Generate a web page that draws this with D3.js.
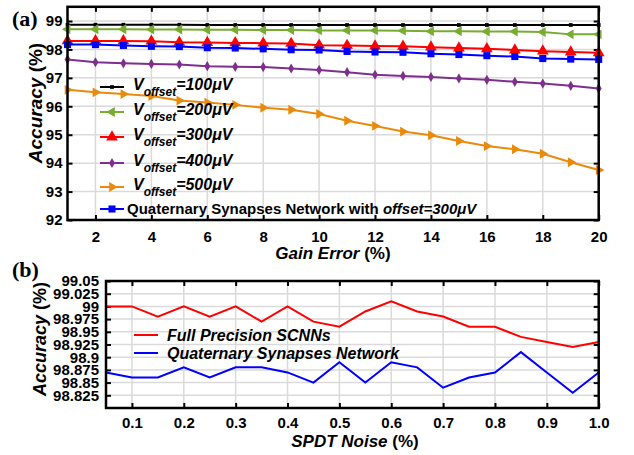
<!DOCTYPE html>
<html>
<head>
<meta charset="utf-8">
<script src="https://cdn.jsdelivr.net/npm/d3@7"></script>
<style>
    body { margin: 0; background: #fff; }
    svg { display: block; font-family: 'Liberation Sans', Arial, sans-serif; font-weight: bold; }
    .grid line { stroke: #dadada; stroke-width: 1.5; }
    .axis text { font-weight: bold; fill: #000; }
    .axis line { stroke: #000; stroke-width: 2; }
</style>
</head>
<body>
<svg id="chart" width="634" height="455"></svg>
<script>
// panel (a): accuracy vs gain error
const gainError = [1, 2, 3, 4, 5, 6, 7, 8, 9, 10, 11, 12, 13, 14, 15, 16, 17, 18, 19, 20];
const acc100 = [98.87, 98.87, 98.87, 98.87, 98.87, 98.86, 98.86, 98.86, 98.86, 98.86, 98.86, 98.86, 98.86, 98.86, 98.86, 98.86, 98.86, 98.86, 98.86, 98.86];
const acc200 = [98.71, 98.71, 98.71, 98.70, 98.70, 98.69, 98.69, 98.68, 98.68, 98.67, 98.67, 98.67, 98.66, 98.64, 98.64, 98.63, 98.63, 98.61, 98.53, 98.53];
const acc300 = [98.30, 98.30, 98.30, 98.29, 98.25, 98.24, 98.23, 98.22, 98.21, 98.15, 98.14, 98.12, 98.11, 98.08, 98.05, 98.02, 97.98, 97.94, 97.91, 97.88];
const acc400 = [97.65, 97.55, 97.51, 97.49, 97.47, 97.41, 97.39, 97.38, 97.33, 97.28, 97.20, 97.11, 97.07, 97.03, 96.98, 96.93, 96.86, 96.80, 96.72, 96.63];
const acc500 = [96.58, 96.49, 96.43, 96.36, 96.20, 96.13, 96.05, 95.95, 95.88, 95.73, 95.49, 95.31, 95.11, 94.98, 94.78, 94.60, 94.49, 94.33, 94.03, 93.76];
const accQuat = [98.17, 98.17, 98.14, 98.11, 98.10, 98.06, 98.05, 98.02, 97.99, 97.98, 97.93, 97.91, 97.90, 97.85, 97.82, 97.78, 97.75, 97.68, 97.66, 97.65];
const offsetLabels = ['100', '200', '300', '400', '500'];
const gainTicks = [2, 4, 6, 8, 10, 12, 14, 16, 18, 20];
const accTicksA = [92, 93, 94, 95, 96, 97, 98, 99];

// panel (b): accuracy vs SPDT noise
const spdtNoise = [0.05, 0.1, 0.15, 0.2, 0.25, 0.3, 0.35, 0.4, 0.45, 0.5, 0.55, 0.6, 0.65, 0.7, 0.75, 0.8, 0.85, 0.9, 0.95, 1.0];
const accFull = [99.0, 99.0, 98.98, 99.0, 98.98, 99.0, 98.97, 99.0, 98.97, 98.96, 98.99, 99.01, 98.99, 98.98, 98.96, 98.96, 98.94, 98.93, 98.92, 98.93];
const accQuatNoise = [98.87, 98.86, 98.86, 98.88, 98.86, 98.88, 98.88, 98.87, 98.85, 98.89, 98.85, 98.89, 98.88, 98.84, 98.86, 98.87, 98.91, 98.87, 98.83, 98.87];
const noiseTicks = [0.1, 0.2, 0.3, 0.4, 0.5, 0.6, 0.7, 0.8, 0.9, 1.0];
const accTicksB = [98.825, 98.85, 98.875, 98.9, 98.925, 98.95, 98.975, 99, 99.025, 99.05];

document.addEventListener('DOMContentLoaded', () => {
    'use strict';

    let svg = d3.select('#chart');

    // shared drawing of grid, inward ticks on all four sides and the frame
    let drawFrame = (g, x, y, xTicks, yTicks, opts) => {
        let [x0, x1] = x.range(), [y0, y1] = y.range();
        let grid = g.append('g').attr('class', 'grid');
        grid.selectAll('.gx').data(xTicks).enter().append('line')
            .attr('x1', d => x(d)).attr('x2', d => x(d))
            .attr('y1', y0).attr('y2', y1);
        grid.selectAll('.gy').data(yTicks).enter().append('line')
            .attr('x1', x0).attr('x2', x1)
            .attr('y1', d => y(d)).attr('y2', d => y(d));

        g.append('g').attr('class', 'axis')
            .attr('transform', 'translate(0,' + y0 + ')')
            .call(d3.axisBottom(x).tickValues(xTicks).tickSize(-5).tickPadding(opts.xPad).tickFormat(opts.xFormat))
            .style('font-size', opts.xFont + 'px')
            .call(a => a.select('.domain').remove());
        g.append('g').attr('class', 'axis')
            .attr('transform', 'translate(0,' + y1 + ')')
            .call(d3.axisTop(x).tickValues(xTicks).tickSize(-5).tickFormat(''))
            .call(a => a.select('.domain').remove());
        g.append('g').attr('class', 'axis')
            .attr('transform', 'translate(' + x0 + ',0)')
            .call(d3.axisLeft(y).tickValues(yTicks).tickSize(-5).tickPadding(opts.yPad).tickFormat(opts.yFormat))
            .style('font-size', opts.yFont + 'px')
            .call(a => a.select('.domain').remove());
        g.append('g').attr('class', 'axis')
            .attr('transform', 'translate(' + x1 + ',0)')
            .call(d3.axisRight(y).tickValues(yTicks).tickSize(-5).tickFormat(''))
            .call(a => a.select('.domain').remove());

        g.selectAll('.axis text').attr('font-family', null);
    };

    let outline = (g, x, y) => {
        let [x0, x1] = x.range(), [y0, y1] = y.range();
        g.append('rect')
            .attr('x', x0).attr('y', y1)
            .attr('width', x1 - x0).attr('height', y0 - y1)
            .attr('fill', 'none').attr('stroke', '#000').attr('stroke-width', 2.5);
    };

    // ---------- panel (a) ----------
    let xA = d3.scaleLinear().domain([1, 20]).range([67.5, 598.7]);
    let yA = d3.scaleLinear().domain([92, 99.5]).range([220, 6.8]);
    let gA = svg.append('g');

    drawFrame(gA, xA, yA, gainTicks, accTicksA, {
        xPad: 11, xFont: 15, xFormat: d3.format('d'),
        yPad: 5, yFont: 15, yFormat: d3.format('d')
    });

    let seriesA = [
        {values: acc100, color: '#000000', symbol: d3.symbolSquare, size: 14, rotate: 0},
        {values: acc200, color: '#77ac30', symbol: d3.symbolTriangle, size: 42, rotate: -90},
        {values: acc300, color: '#ff0000', symbol: d3.symbolTriangle, size: 60, rotate: 0},
        {values: acc400, color: '#7e2f8e', symbol: d3.symbolDiamond, size: 30, rotate: 0},
        {values: acc500, color: '#ea8a0c', symbol: d3.symbolTriangle, size: 42, rotate: 90},
        {values: accQuat, color: '#0000ff', symbol: d3.symbolSquare, size: 50, rotate: 0}
    ];

    let lineA = d3.line()
        .x((d, i) => xA(gainError[i]))
        .y(d => yA(d));

    seriesA.forEach(s => {
        gA.append('path')
            .datum(s.values)
            .attr('d', lineA)
            .attr('fill', 'none')
            .attr('stroke', s.color)
            .attr('stroke-width', 2);
        gA.selectAll(null)
            .data(s.values)
          .enter().append('path')
            .attr('d', d3.symbol().type(s.symbol).size(s.size))
            .attr('transform', (d, i) => 'translate(' + xA(gainError[i]) + ',' + yA(d) + ') rotate(' + s.rotate + ')')
            .attr('fill', s.color);
    });

    outline(gA, xA, yA);

    // legend (a)
    let legendRowsA = [87, 112, 137, 163, 187];
    seriesA.slice(0, 5).forEach((s, i) => {
        let ly = legendRowsA[i];
        gA.append('line')
            .attr('x1', 100).attr('x2', 124)
            .attr('y1', ly).attr('y2', ly)
            .attr('stroke', s.color).attr('stroke-width', 2);
        gA.append('path')
            .attr('d', d3.symbol().type(s.symbol).size(s.size))
            .attr('transform', 'translate(112,' + ly + ') rotate(' + s.rotate + ')')
            .attr('fill', s.color);
        let t = gA.append('text')
            .attr('x', 133).attr('y', ly + 3)
            .style('font-style', 'italic')
            .style('font-size', '16px');
        t.append('tspan').text('V');
        t.append('tspan').attr('dy', 6).style('font-size', '12px').text('offset');
        t.append('tspan').attr('dy', -6).text('=' + offsetLabels[i] + '\u03bcV');
    });

    let quat = seriesA[5];
    gA.append('line')
        .attr('x1', 100).attr('x2', 124)
        .attr('y1', 209).attr('y2', 209)
        .attr('stroke', quat.color).attr('stroke-width', 2);
    gA.append('path')
        .attr('d', d3.symbol().type(quat.symbol).size(quat.size))
        .attr('transform', 'translate(112,209)')
        .attr('fill', quat.color);
    let qt = gA.append('text')
        .attr('x', 127).attr('y', 214)
        .style('font-size', '15px');
    qt.append('tspan').text('Quaternary Synapses Network with ');
    qt.append('tspan').style('font-style', 'italic').text('offset=300\u03bcV');

    // axis titles (a)
    let titleA = gA.append('text')
        .attr('x', 333).attr('y', 259)
        .attr('text-anchor', 'middle')
        .style('font-size', '17px');
    titleA.append('tspan').style('font-style', 'italic').text('Gain Error ');
    titleA.append('tspan').text('(%)');

    let yTitleA = gA.append('text')
        .attr('transform', 'translate(42,103) rotate(-90)')
        .attr('text-anchor', 'middle')
        .style('font-size', '19px');
    yTitleA.append('tspan').style('font-style', 'italic').text('Accuracy ');
    yTitleA.append('tspan').text('(%)');

    svg.append('text')
        .attr('x', 12).attr('y', 26)
        .style('font-family', "'Liberation Serif', 'Times New Roman', serif")
        .style('font-size', '22px')
        .text('(a)');

    // ---------- panel (b) ----------
    let xB = d3.scaleLinear().domain([0.05, 1.0]).range([106, 598.7]);
    let yB = d3.scaleLinear().domain([98.8, 99.05]).range([408, 281]);
    let gB = svg.append('g');

    drawFrame(gB, xB, yB, noiseTicks, accTicksB, {
        xPad: 9, xFont: 15, xFormat: d3.format('.1f'),
        yPad: 7, yFont: 15, yFormat: d => String(+d.toFixed(3))
    });

    let seriesB = [
        {values: accFull, color: '#ff0000', label: 'Full Precision SCNNs', ly: 335},
        {values: accQuatNoise, color: '#0000ff', label: 'Quaternary Synapses Network', ly: 353}
    ];

    let lineB = d3.line()
        .x((d, i) => xB(spdtNoise[i]))
        .y(d => yB(d));

    seriesB.forEach(s => {
        gB.append('path')
            .datum(s.values)
            .attr('d', lineB)
            .attr('fill', 'none')
            .attr('stroke', s.color)
            .attr('stroke-width', 2);
        gB.append('line')
            .attr('x1', 134).attr('x2', 158)
            .attr('y1', s.ly).attr('y2', s.ly)
            .attr('stroke', s.color).attr('stroke-width', 2);
        gB.append('text')
            .attr('x', 167).attr('y', s.ly + 6)
            .style('font-style', 'italic')
            .style('font-size', '16px')
            .text(s.label);
    });

    outline(gB, xB, yB);

    let titleB = gB.append('text')
        .attr('x', 355).attr('y', 447)
        .attr('text-anchor', 'middle')
        .style('font-size', '17px');
    titleB.append('tspan').style('font-style', 'italic').text('SPDT Noise ');
    titleB.append('tspan').text('(%)');

    let yTitleB = gB.append('text')
        .attr('transform', 'translate(46,339) rotate(-90)')
        .attr('text-anchor', 'middle')
        .style('font-size', '18px');
    yTitleB.append('tspan').style('font-style', 'italic').text('Accuracy ');
    yTitleB.append('tspan').text('(%)');

    svg.append('text')
        .attr('x', 12).attr('y', 277)
        .style('font-family', "'Liberation Serif', 'Times New Roman', serif")
        .style('font-size', '22px')
        .text('(b)');
});
</script>
</body>
</html>
